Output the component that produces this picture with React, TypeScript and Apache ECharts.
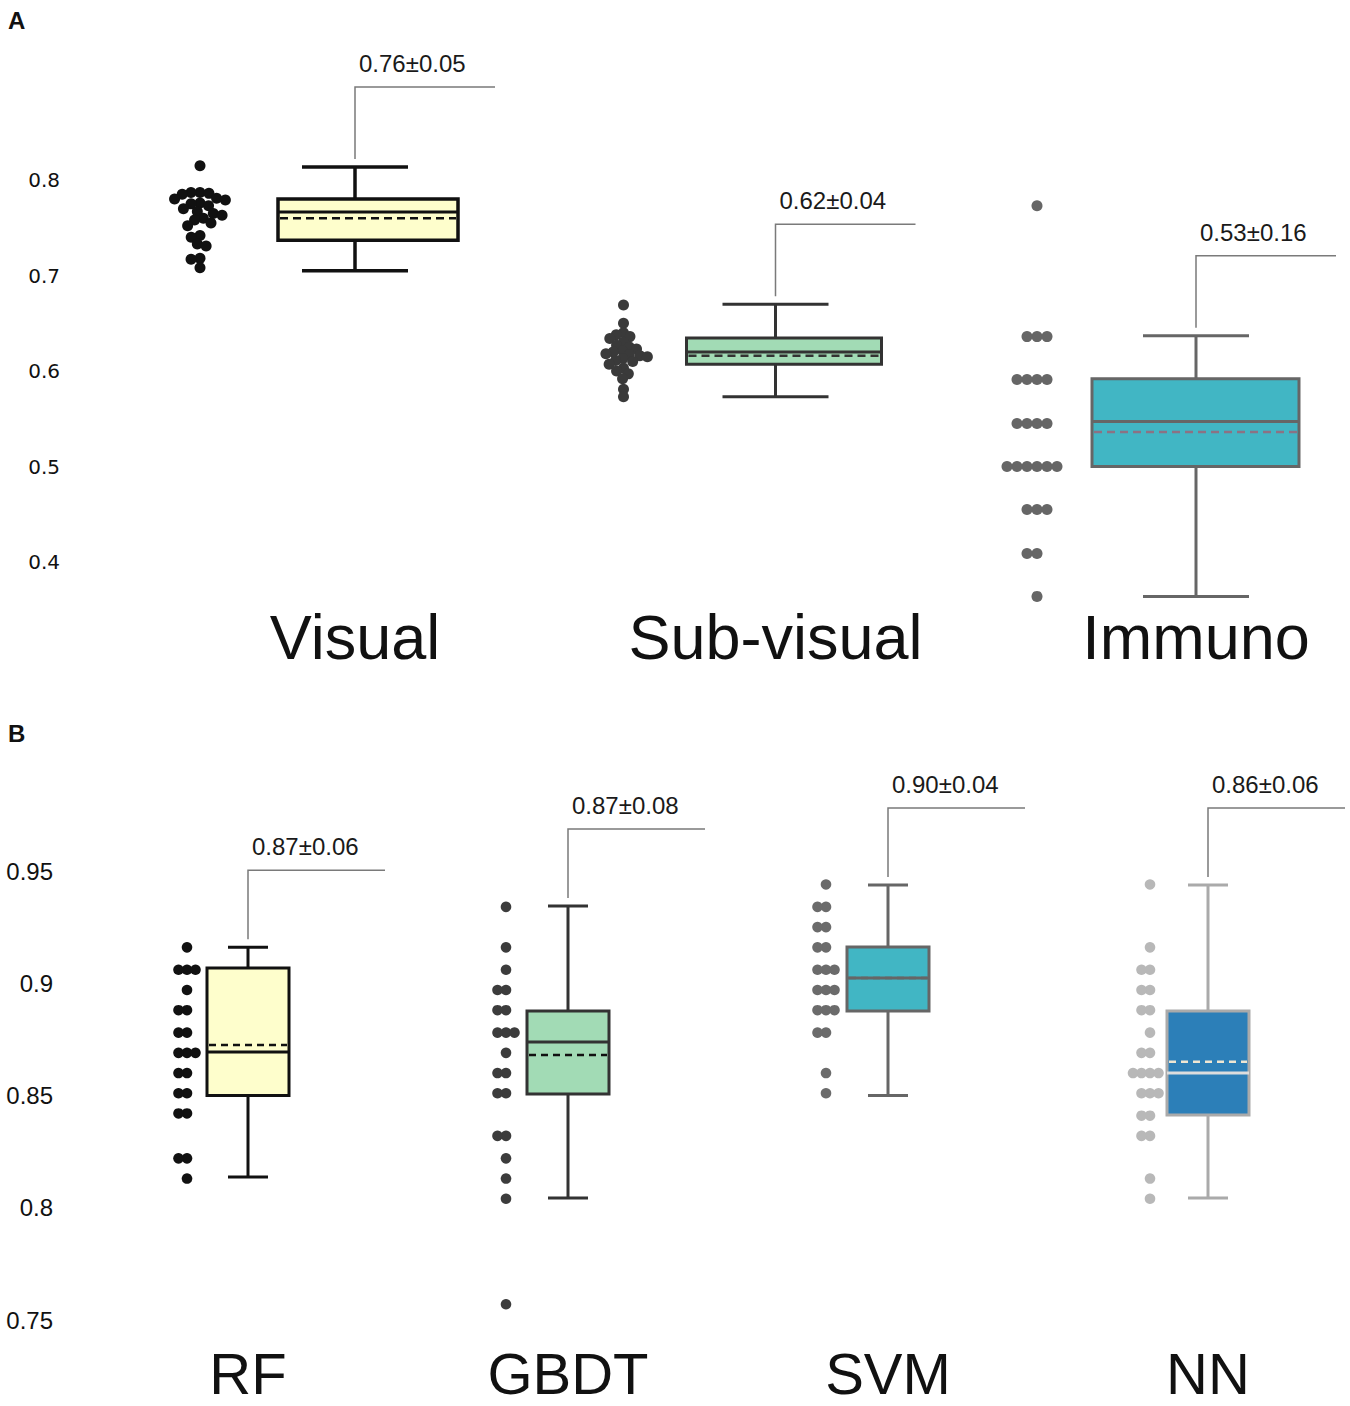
import React, { useEffect, useRef } from "react";
import * as echarts from "echarts";

// ---------- DATA ----------
const catsA = ["Visual", "Sub-visual", "Immuno"];
const catsB = ["RF", "GBDT", "SVM", "NN"];

const visualVals = [0.815, 0.787, 0.787, 0.786, 0.785, 0.781, 0.78, 0.779, 0.776, 0.775, 0.773, 0.77, 0.767, 0.765, 0.763, 0.76, 0.758, 0.755, 0.752, 0.742, 0.74, 0.733, 0.731, 0.718, 0.717, 0.708];
const subVisualVals = [0.669, 0.65, 0.64, 0.638, 0.636, 0.634, 0.63, 0.627, 0.625, 0.623, 0.621, 0.62, 0.618, 0.617, 0.616, 0.615, 0.613, 0.611, 0.61, 0.607, 0.603, 0.6, 0.597, 0.592, 0.581, 0.573];
const immunoVals = [0.773, 0.636, 0.636, 0.636, 0.591, 0.591, 0.591, 0.591, 0.545, 0.545, 0.545, 0.545, 0.5, 0.5, 0.5, 0.5, 0.5, 0.5, 0.455, 0.455, 0.455, 0.409, 0.409, 0.364];

const rfVals = [0.916, 0.906, 0.906, 0.906, 0.897, 0.888, 0.888, 0.878, 0.878, 0.869, 0.869, 0.869, 0.86, 0.86, 0.851, 0.851, 0.842, 0.842, 0.822, 0.822, 0.813];
const gbdtVals = [0.934, 0.916, 0.906, 0.897, 0.897, 0.888, 0.888, 0.878, 0.878, 0.878, 0.869, 0.86, 0.86, 0.851, 0.851, 0.832, 0.832, 0.822, 0.813, 0.804, 0.757];
const svmVals = [0.944, 0.934, 0.934, 0.925, 0.925, 0.916, 0.916, 0.906, 0.906, 0.906, 0.897, 0.897, 0.897, 0.888, 0.888, 0.888, 0.878, 0.878, 0.86, 0.851];
const nnVals = [0.944, 0.916, 0.906, 0.906, 0.897, 0.897, 0.888, 0.888, 0.878, 0.869, 0.869, 0.86, 0.86, 0.86, 0.86, 0.851, 0.851, 0.851, 0.841, 0.841, 0.832, 0.832, 0.813, 0.804];

// box stats: [min, q1, median, q3, max]
const boxStatsA = [
  [0.705, 0.737, 0.7665, 0.78, 0.8136],
  [0.573, 0.607, 0.62, 0.6346, 0.67],
  [0.364, 0.5, 0.547, 0.592, 0.637],
];
const meanLineA = [0.76, 0.616, 0.536];
const meanLabelA = [0.76, 0.62, 0.53];
const sdLabelA = [0.05, 0.04, 0.16];

const boxStatsB = [
  [0.8137, 0.85, 0.8694, 0.9068, 0.916],
  [0.8043, 0.8507, 0.8738, 0.8876, 0.9344],
  [0.85, 0.8876, 0.9023, 0.9161, 0.9438],
  [0.8043, 0.8413, 0.86, 0.8876, 0.9438],
];
const meanLineB = [0.8725, 0.868, 0.9023, 0.865];
const meanLabelB = [0.87, 0.87, 0.9, 0.86];
const sdLabelB = [0.06, 0.08, 0.04, 0.06];

// ---------- STYLES ----------
const stylesA = [
  { fill: "#fefecc", stroke: "#111", med: "#111", mean: "#111", dot: "#111", lw: 3.5 },
  { fill: "#a2dbb5", stroke: "#333", med: "#333", mean: "#333", dot: "#3a3a3a", lw: 3 },
  { fill: "#41b6c4", stroke: "#666", med: "#666", mean: "#8c7283", dot: "#666", lw: 3 },
];
const stylesB = [
  { fill: "#fefecc", stroke: "#111", med: "#111", mean: "#111", dot: "#111", lw: 3 },
  { fill: "#a2dbb5", stroke: "#333", med: "#333", mean: "#111", dot: "#3c3c3c", lw: 3 },
  { fill: "#41b6c4", stroke: "#666", med: "#666", mean: "#666", dot: "#6b6b6b", lw: 3 },
  { fill: "#2c7fb8", stroke: "#aaa", med: "#ddd", mean: "#efe6d2", dot: "#b8b8b8", lw: 3 },
];
const geomA = { boxL: [-77, -89, -104], boxR: [103, 106, 103], cap: 53, dotShift: [-155, -152, -159], dotR: 5.5, dotD: [9, 7.5, 10], bracketLen: 140, rise: 80 };
const geomB = { boxL: [-41, -41, -41, -41], boxR: [41, 41, 41, 41], cap: 20, dotShift: [-61, -62, -62, -58], dotR: 5.3, dotD: [8.5, 8.5, 8.5, 8.5], bracketLen: 137, rise: 77 };

const FONT = "Liberation Sans, Arial, Helvetica, sans-serif";

const gridA = { left: 144.75, top: 84.5, width: 1261.5, height: 525.25 };
const yRangeA = [0.35, 0.9];
const gridB = { left: 88, top: 758.75, width: 1280, height: 561.25 };
const yRangeB = [0.75, 1.0];

function swarmOffsets(vals: number[], ppu: number, d: number): number[] {
  const idx = vals.map((_, i) => i).sort((a, b) => vals[b] - vals[a]);
  const placed: { x: number; y: number }[] = [];
  const out = new Array(vals.length).fill(0);
  for (const i of idx) {
    const y = vals[i] * ppu;
    const near = placed.filter((p) => Math.abs(p.y - y) < d);
    const cands = [0];
    for (const p of near) {
      const dx = Math.sqrt(d * d - (p.y - y) ** 2);
      cands.push(p.x + dx, p.x - dx);
    }
    cands.sort((a, b) => Math.abs(a) - Math.abs(b) || a - b);
    let x = 0;
    for (const c of cands) {
      if (near.every((p) => (p.x - c) ** 2 + (p.y - y) ** 2 >= d * d - 1e-6)) {
        x = c;
        break;
      }
    }
    placed.push({ x, y });
    out[i] = x;
  }
  return out;
}

function dotData(groups: number[][], ppu: number, dists: number[]) {
  const data: number[][] = [];
  groups.forEach((vals, ci) => {
    const offs = swarmOffsets(vals, ppu, dists[ci]);
    vals.forEach((v, k) => data.push([ci, v, offs[k]]));
  });
  return data;
}

function makeDotRender(styles: any[], geom: any) {
  return (params: any, api: any) => {
    const ci = api.value(0);
    const p = api.coord([ci, api.value(1)]);
    return {
      type: "circle",
      shape: { cx: p[0] + geom.dotShift[ci] + api.value(2), cy: p[1], r: geom.dotR },
      style: { fill: styles[ci].dot },
    };
  };
}

function makeBoxRender(styles: any[], geom: any, dash: number[]) {
  return (params: any, api: any) => {
    const ci = api.value(0);
    const st = styles[ci];
    const y = (v: number) => api.coord([ci, v])[1];
    const x = api.coord([ci, api.value(3)])[0];
    const yMin = y(api.value(1));
    const yQ1 = y(api.value(2));
    const yMed = y(api.value(3));
    const yQ3 = y(api.value(4));
    const yMax = y(api.value(5));
    const yMean = y(api.value(6));
    const bl = x + geom.boxL[ci];
    const br = x + geom.boxR[ci];
    const lineTop = yMax - geom.rise;
    const txt = `${api.value(7).toFixed(2)}±${api.value(8).toFixed(2)}`;
    return {
      type: "group",
      children: [
        { type: "line", shape: { x1: x, y1: yMax, x2: x, y2: yQ3 }, style: { stroke: st.stroke, lineWidth: st.lw } },
        { type: "line", shape: { x1: x, y1: yQ1, x2: x, y2: yMin }, style: { stroke: st.stroke, lineWidth: st.lw } },
        { type: "line", shape: { x1: x - geom.cap, y1: yMax, x2: x + geom.cap, y2: yMax }, style: { stroke: st.stroke, lineWidth: st.lw } },
        { type: "line", shape: { x1: x - geom.cap, y1: yMin, x2: x + geom.cap, y2: yMin }, style: { stroke: st.stroke, lineWidth: st.lw } },
        { type: "rect", shape: { x: bl, y: yQ3, width: br - bl, height: yQ1 - yQ3 }, style: { fill: st.fill, stroke: st.stroke, lineWidth: st.lw } },
        { type: "line", shape: { x1: bl, y1: yMed, x2: br, y2: yMed }, style: { stroke: st.med, lineWidth: 3 } },
        { type: "line", shape: { x1: bl + 2, y1: yMean, x2: br - 2, y2: yMean }, style: { stroke: st.mean, lineWidth: 2.5, lineDash: dash } },
        {
          type: "polyline",
          shape: { points: [[x, yMax - 8], [x, lineTop], [x + geom.bracketLen, lineTop]] },
          style: { stroke: "#7a7a7a", lineWidth: 1.5, fill: "none" },
        },
        {
          type: "text",
          style: { text: txt, x: x + 4, y: lineTop - 23.5, align: "left", verticalAlign: "middle", fontSize: 24, fontFamily: FONT, fill: "#1a1a1a" },
        },
      ],
    };
  };
}

export default function App() {
  const ref = useRef<HTMLDivElement>(null);
  useEffect(() => {
    document.body.style.margin = "0";
    if (!ref.current) return;
    const chart = echarts.init(ref.current, null, { renderer: "svg" });
    const ppuA = gridA.height / (yRangeA[1] - yRangeA[0]);
    const ppuB = gridB.height / (yRangeB[1] - yRangeB[0]);

    const boxDataA = boxStatsA.map((s, i) => [i, ...s, meanLineA[i], meanLabelA[i], sdLabelA[i]]);
    const boxDataB = boxStatsB.map((s, i) => [i, ...s, meanLineB[i], meanLabelB[i], sdLabelB[i]]);

    const axisCommonX = {
      type: "category",
      axisLine: { show: false },
      axisTick: { show: false },
      splitLine: { show: false },
    };

    chart.setOption({
      animation: false,
      backgroundColor: "#ffffff",
      grid: [
        { ...gridA, outerBoundsMode: "none", containLabel: false },
        { ...gridB, outerBoundsMode: "none", containLabel: false },
      ],
      xAxis: [
        {
          ...axisCommonX,
          gridIndex: 0,
          data: catsA,
          axisLabel: { fontSize: 63, lineHeight: 63, color: "#111", fontFamily: FONT, margin: -4, interval: 0 },
        },
        {
          ...axisCommonX,
          gridIndex: 1,
          data: catsB,
          axisLabel: { fontSize: 58, lineHeight: 50, color: "#111", fontFamily: FONT, margin: 28, interval: 0 },
        },
      ],
      yAxis: [
        {
          type: "value",
          gridIndex: 0,
          min: yRangeA[0],
          max: yRangeA[1],
          interval: 0.05,
          axisLine: { show: false },
          axisTick: { show: false },
          splitLine: { show: false },
          axisLabel: {
            margin: 84.75,
            fontFamily: "DejaVu Sans",
            fontSize: 20,
            color: "#111",
            formatter: (v: number) => {
              const k = Math.round(v * 100);
              return k % 10 === 0 && k >= 40 && k <= 80 ? (k / 100).toFixed(1) : "";
            },
          },
        },
        {
          type: "value",
          gridIndex: 1,
          min: yRangeB[0],
          max: yRangeB[1],
          interval: 0.05,
          axisLine: { show: false },
          axisTick: { show: false },
          splitLine: { show: false },
          axisLabel: {
            margin: 35,
            fontFamily: FONT,
            fontSize: 24,
            color: "#111",
            formatter: (v: number) => {
              const k = Math.round(v * 100);
              return k <= 95 ? String(k / 100) : "";
            },
          },
        },
      ],
      graphic: [
        { type: "text", left: 8, top: 8, style: { text: "A", font: `bold 24px ${FONT}`, fill: "#111" } },
        { type: "text", left: 8, top: 721, style: { text: "B", font: `bold 24px ${FONT}`, fill: "#111" } },
      ],
      series: [
        {
          type: "custom",
          xAxisIndex: 0,
          yAxisIndex: 0,
          clip: false,
          data: dotData([visualVals, subVisualVals, immunoVals], ppuA, geomA.dotD),
          renderItem: makeDotRender(stylesA, geomA),
          z: 3,
        },
        {
          type: "custom",
          xAxisIndex: 0,
          yAxisIndex: 0,
          clip: false,
          data: boxDataA,
          renderItem: makeBoxRender(stylesA, geomA, [8, 5]),
          z: 2,
        },
        {
          type: "custom",
          xAxisIndex: 1,
          yAxisIndex: 1,
          clip: false,
          data: dotData([rfVals, gbdtVals, svmVals, nnVals], ppuB, geomB.dotD),
          renderItem: makeDotRender(stylesB, geomB),
          z: 3,
        },
        {
          type: "custom",
          xAxisIndex: 1,
          yAxisIndex: 1,
          clip: false,
          data: boxDataB,
          renderItem: makeBoxRender(stylesB, geomB, [7, 5]),
          z: 2,
        },
      ],
    });
    return () => chart.dispose();
  }, []);
  return <div ref={ref} style={{ width: 1350, height: 1406 }} />;
}
